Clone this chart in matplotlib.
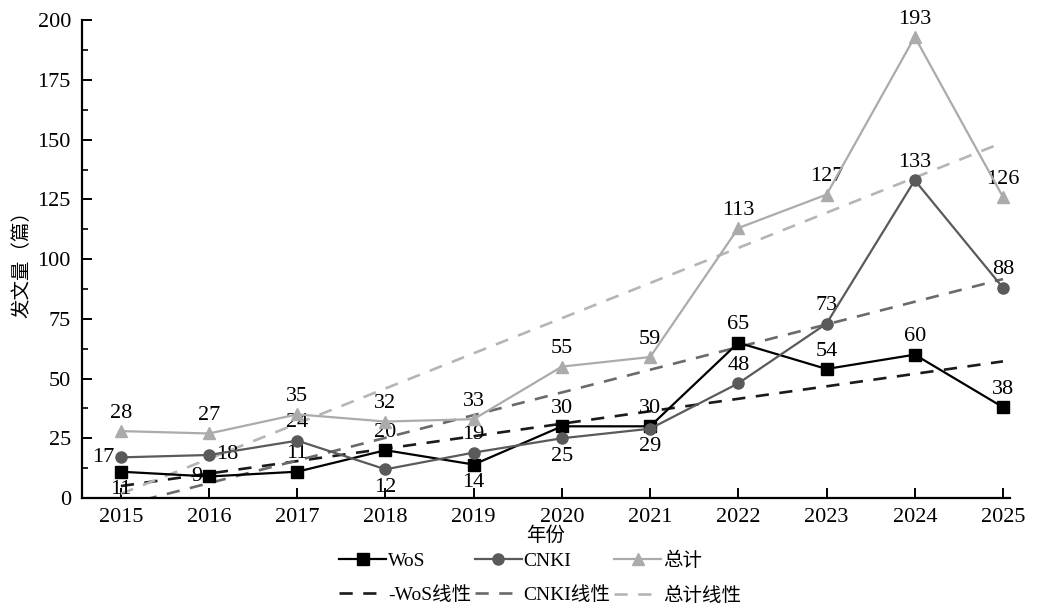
import numpy as np
import matplotlib
matplotlib.use("Agg")
import matplotlib.pyplot as plt
from matplotlib.ticker import MultipleLocator

plt.rcParams['font.family'] = ['Liberation Serif', 'Noto Sans CJK SC', 'DejaVu Sans']
plt.rcParams['mathtext.fontset'] = 'stix'

years = [2015, 2016, 2017, 2018, 2019, 2020, 2021, 2022, 2023, 2024, 2025]
wos = [11, 9, 11, 20, 14, 30, 30, 65, 54, 60, 38]
cnki = [17, 18, 24, 12, 19, 25, 29, 48, 73, 133, 88]
total = [28, 27, 35, 32, 33, 55, 59, 113, 127, 193, 126]

# label placement per point: 'a' above, 'b' below, 'l' left, 'r' right
wos_pos = ['b', 'l', 'a', 'a', 'b', 'a', 'a', 'a', 'a', 'a', 'a']
cnki_pos = ['l', 'r', 'a', 'b', 'a', 'b', 'b', 'a', 'a', 'a', 'a']
total_pos = ['a'] * 11

c_wos = '#000000'
c_cnki = '#5a5a5a'
c_total = '#ababab'
c_wos_t = '#1a1a1a'
c_cnki_t = '#6a6a6a'
c_total_t = '#b5b5b5'

fig = plt.figure(figsize=(10.37, 6.12), dpi=100)
ax = fig.add_axes([0.0791, 0.1863, 0.974 - 0.0791, 0.967 - 0.1863])

x = np.array(years, dtype=float)

def trend(vals):
    k, b = np.polyfit(x, np.array(vals, dtype=float), 1)
    return k * x + b

h_t_w, = ax.plot(x, trend(wos), '--', color=c_wos_t, lw=1.9, dashes=(5, 4), zorder=2)
h_t_c, = ax.plot(x, trend(cnki), '--', color=c_cnki_t, lw=1.9, dashes=(5, 4), zorder=2)
h_t_t, = ax.plot(x, trend(total), '--', color=c_total_t, lw=1.9, dashes=(5, 4), zorder=2)

h_w, = ax.plot(x, wos, '-', color=c_wos, marker='s', ms=8, lw=1.6, zorder=4)
h_c, = ax.plot(x, cnki, '-', color=c_cnki, marker='o', ms=8, lw=1.6, zorder=4)
h_t, = ax.plot(x, total, '-', color=c_total, marker='^', ms=9, lw=1.6, zorder=4)

def label(vals, poss):
    for xi, v, p in zip(x, vals, poss):
        if p == 'a':
            off, ha, va = (0, 6), 'center', 'bottom'
        elif p == 'b':
            off, ha, va = (0, -6), 'center', 'top'
        elif p == 'l':
            off, ha, va = (-5, 0), 'right', 'center'
        else:
            off, ha, va = (5, 0), 'left', 'center'
        ax.annotate(str(v), (xi, v), xytext=off, textcoords='offset points',
                    ha=ha, va=va, fontsize=16, color='black', zorder=3)

label(wos, wos_pos)
label(cnki, cnki_pos)
label(total, total_pos)

ax.set_xlim(2014.56, 2025.08)
ax.set_ylim(0, 200)
ax.set_xticks(years)
ax.set_xticklabels([str(y) for y in years])
ax.yaxis.set_major_locator(MultipleLocator(25))
ax.yaxis.set_minor_locator(MultipleLocator(12.5))
ax.tick_params(axis='both', which='major', direction='in', length=7, width=1.4, labelsize=16)
ax.tick_params(axis='y', which='minor', direction='in', length=4, width=1.2)
ax.tick_params(axis='x', pad=7)
ax.tick_params(axis='y', pad=8)
for s in ['top', 'right']:
    ax.spines[s].set_visible(False)
for s in ['left', 'bottom']:
    ax.spines[s].set_linewidth(1.6)

ax.set_xlabel('年份', fontsize=14, labelpad=0)
ax.set_ylabel('发文量（篇）', fontsize=14, labelpad=4)

handles = [h_w, h_t_w, h_c, h_t_c, h_t, h_t_t]
labels = ['WoS', '-WoS线性', 'CNKI', 'CNKI线性', '总计', '总计线性']
fig.legend(handles, labels, loc='upper center', bbox_to_anchor=(0.521, 0.118),
           ncol=3, frameon=False, fontsize=14, handlelength=2.4,
           handletextpad=0.1, columnspacing=0.2, labelspacing=0.85,
           borderpad=0.1)

fig.savefig('out.png', dpi=100)
